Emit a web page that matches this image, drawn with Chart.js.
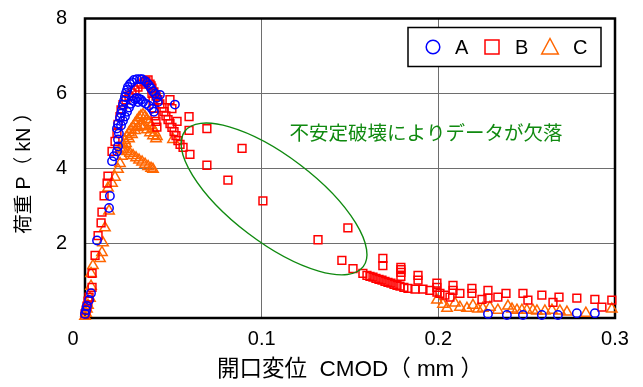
<!DOCTYPE html>
<html lang="ja">
<head>
<meta charset="utf-8">
<style>
html, body { margin: 0; padding: 0; background: #fff; }
canvas { display: block; }
</style>
<script src="https://cdn.jsdelivr.net/npm/chart.js"></script>
</head>
<body>
<canvas id="c" width="643" height="387"></canvas>
<script>
// Load P (kN) against crack mouth opening displacement CMOD (mm), three specimens.
const seriesNames = ['A', 'B', 'C'];

const cmodA = [0, 0.0006, 0.0011, 0.0023, 0.0034, 0.0068, 0.0136, 0.0141, 0.0153, 0.0164,
  0.0181, 0.0187, 0.0187, 0.0192, 0.0181, 0.0187, 0.0198, 0.0204, 0.0209, 0.0215,
  0.0221, 0.0226, 0.0232, 0.0238, 0.0243, 0.0255, 0.0266, 0.0277, 0.0294, 0.0311,
  0.0323, 0.0340, 0.0351, 0.0362, 0.0374, 0.0385, 0.0396, 0.0407, 0.0413,
  0.0204, 0.0215, 0.0226, 0.0238, 0.0249, 0.0260, 0.0272, 0.0283, 0.0294, 0.0306,
  0.0317, 0.0328, 0.0345, 0.0362, 0.0379, 0.0390,
  0.0300, 0.0424, 0.0509,
  0.2281, 0.2388, 0.2479, 0.2586, 0.2677, 0.2784, 0.2886];
const loadA = [0.11, 0.21, 0.32, 0.48, 0.66, 2.07, 2.94, 3.26, 4.19, 4.32,
  4.45, 4.58, 4.77, 4.93, 5.06, 5.19, 5.35, 5.46, 5.56, 5.70,
  5.80, 5.91, 6.01, 6.09, 6.17, 6.25, 6.30, 6.36, 6.38, 6.38,
  6.38, 6.33, 6.28, 6.22, 6.14, 6.06, 5.99, 5.88, 5.77,
  5.14, 5.27, 5.38, 5.51, 5.62, 5.72, 5.80, 5.85, 5.88, 5.85,
  5.83, 5.77, 5.72, 5.67, 5.59, 5.51,
  5.77, 5.96, 5.70,
  0.11, 0.08, 0.08, 0.08, 0.08, 0.13, 0.13];

const cmodB = [0, 0.0006, 0.0011, 0.0017, 0.0023, 0.0040, 0.0040, 0.0057, 0.0074, 0.0091,
  0.0096, 0.0108, 0.0125, 0.0130, 0.0153, 0.0170, 0.0181, 0.0187, 0.0198, 0.0204,
  0.0215, 0.0232, 0.0249, 0.0266, 0.0283, 0.0300, 0.0317, 0.0334, 0.0345, 0.0357,
  0.0368, 0.0379, 0.0390, 0.0402, 0.0413, 0.0424, 0.0436, 0.0447, 0.0458, 0.0470,
  0.0481, 0.0492, 0.0504, 0.0515, 0.0526, 0.0538, 0.0555, 0.0594,
  0.0374, 0.0379, 0.0385, 0.0390, 0.0396, 0.0402, 0.0407,
  0.0481, 0.0492, 0.0521, 0.0589, 0.0589, 0.0690, 0.0690, 0.0809, 0.0889, 0.1007,
  0.1319, 0.1488, 0.1454, 0.1517, 0.1573,
  0.1596, 0.1613, 0.1630, 0.1647, 0.1664, 0.1681, 0.1698, 0.1715, 0.1732, 0.1749,
  0.1766, 0.1783, 0.1805, 0.1828, 0.1868, 0.1913, 0.1952, 0.1992, 0.2009, 0.2037, 0.2066,
  0.1686, 0.1686, 0.1788, 0.1788, 0.1788, 0.1788, 0.1885, 0.1885, 0.1992, 0.1992,
  0.2083, 0.2083, 0.2122, 0.2190, 0.2190, 0.2247, 0.2281, 0.2281, 0.2337, 0.2383,
  0.2479, 0.2507, 0.2586, 0.2649, 0.2683, 0.2784, 0.2886, 0.2926, 0.2982];
const loadB = [0.11, 0.21, 0.32, 0.45, 0.56, 0.82, 1.19, 1.67, 2.20, 2.54,
  2.83, 3.26, 3.60, 3.79, 4.45, 4.72, 4.93, 5.17, 5.38, 5.56,
  5.70, 5.83, 5.93, 6.01, 6.09, 6.17, 6.25, 6.30, 6.33, 6.36,
  6.25, 6.14, 6.04, 5.93, 5.83, 5.72, 5.62, 5.51, 5.40, 5.30,
  5.19, 5.09, 4.98, 4.87, 4.74, 4.64, 4.56, 4.37,
  6.20, 6.00, 5.80, 5.60, 5.40, 5.25, 5.10,
  5.83, 5.59, 5.25, 5.38, 5.01, 5.06, 4.08, 3.68, 4.53, 3.13,
  2.09, 2.41, 1.54, 1.32, 1.19,
  1.14, 1.11, 1.09, 1.06, 1.03, 1.01, 0.98, 0.95, 0.93, 0.90,
  0.87, 0.85, 0.82, 0.79, 0.77, 0.77, 0.74, 0.69, 0.66, 0.61, 0.56,
  1.59, 1.40, 1.35, 1.29, 1.22, 1.11, 1.14, 1.01, 0.93, 0.82,
  0.87, 0.74, 0.66, 0.79, 0.66, 0.50, 0.74, 0.53, 0.56, 0.66,
  0.66, 0.48, 0.61, 0.42, 0.56, 0.53, 0.50, 0.29, 0.48];

const cmodC = [0, 0.0006, 0.0011, 0.0017, 0.0028, 0.0034, 0.0034, 0.0045, 0.0085, 0.0096,
  0.0102, 0.0113, 0.0136, 0.0130, 0.0153, 0.0170, 0.0187, 0.0198, 0.0209, 0.0204,
  0.0215, 0.0226, 0.0238, 0.0249, 0.0260, 0.0272, 0.0283, 0.0294, 0.0306, 0.0317,
  0.0328, 0.0340, 0.0351, 0.0362, 0.0374, 0.0385, 0.0396, 0.0407, 0.0498,
  0.0215, 0.0232, 0.0249, 0.0266, 0.0283, 0.0300, 0.0317, 0.0334, 0.0351, 0.0368, 0.0385, 0.0402,
  0.0221, 0.0238, 0.0255, 0.0272, 0.0289, 0.0306, 0.0323, 0.0340, 0.0357, 0.0374, 0.0385,
  0.1992, 0.2026, 0.2049, 0.2094, 0.2122, 0.2162, 0.2196, 0.2224, 0.2252, 0.2292,
  0.2337, 0.2394, 0.2417, 0.2445, 0.2473, 0.2501, 0.2535, 0.2558, 0.2603, 0.2643,
  0.2688, 0.2728, 0.2835, 0.2982];
const loadC = [0.05, 0.13, 0.24, 0.34, 0.53, 0.85, 1.19, 1.40, 1.59, 1.75,
  2.01, 2.41, 2.86, 3.47, 3.60, 3.76, 3.97, 4.13, 4.32, 4.50,
  4.64, 4.74, 4.85, 4.95, 5.03, 5.11, 5.19, 5.27, 5.35, 5.40,
  5.43, 5.38, 5.30, 5.22, 5.14, 5.06, 4.95, 4.85, 4.77,
  4.50, 4.66, 4.79, 4.90, 5.01, 5.09, 5.14, 5.11, 5.03, 4.95, 4.87, 4.79,
  4.50, 4.45, 4.40, 4.34, 4.28, 4.22, 4.17, 4.11, 4.05, 4.00, 3.97,
  0.48, 0.37, 0.26, 0.40, 0.29, 0.26, 0.34, 0.24, 0.26, 0.29,
  0.21, 0.32, 0.24, 0.21, 0.21, 0.21, 0.21, 0.19, 0.19, 0.21,
  0.19, 0.16, 0.13, 0.24];

const xTicks = [0, 0.1, 0.2, 0.3];
const yTicks = [0, 2, 4, 6, 8];
const xTitle = '開口変位  CMOD（ mm ）';
const yTitle = '荷重 P（ kN ）';
const noteText = '不安定破壊によりデータが欠落';

// Region of the unstable-fracture gap (centre in data units)
const noteRegion = { cmod: 0.107, load: 3.18 };
const notePos = { cmod: 0.193, load: 4.95 };

const latin = '"Liberation Sans", Arial, "Noto Sans CJK JP", sans-serif';
const green = '#108a10';

function toPoints(xs, ys) { return xs.map((x, i) => ({ x, y: ys[i] })); }

const markerStyles = [
  { color: '#0000ff', pointStyle: 'circle', radius: 4.2 },
  { color: '#ff0000', pointStyle: 'rect', radius: 5.5 },
  { color: '#ff6600', pointStyle: 'triangle', radius: 6 }
];
const seriesData = [toPoints(cmodA, loadA), toPoints(cmodB, loadB), toPoints(cmodC, loadC)];

const datasets = seriesNames.map((name, i) => ({
  label: name,
  data: seriesData[i],
  showLine: false,
  pointStyle: markerStyles[i].pointStyle,
  pointRadius: markerStyles[i].radius,
  pointHoverRadius: markerStyles[i].radius,
  pointBorderWidth: 1.5,
  borderColor: markerStyles[i].color,
  pointBorderColor: markerStyles[i].color,
  pointBackgroundColor: 'rgba(0,0,0,0)',
  backgroundColor: 'rgba(0,0,0,0)',
  clip: false
}));

const overlay = {
  id: 'overlay',
  beforeDatasetsDraw(chart) {
    const { ctx, chartArea: a } = chart;
    ctx.save();
    ctx.strokeStyle = '#000';
    ctx.lineWidth = 2.5;
    ctx.strokeRect(a.left, a.top, a.right - a.left, a.bottom - a.top);
    ctx.restore();
  },
  afterDatasetsDraw(chart) {
    const { ctx, chartArea: a, scales } = chart;
    const xs = scales.x, ys = scales.y;
    ctx.save();

    // ellipse around the sparse readings
    ctx.beginPath();
    ctx.ellipse(xs.getPixelForValue(noteRegion.cmod), ys.getPixelForValue(noteRegion.load),
      112, 43, 37.2 * Math.PI / 180, 0, Math.PI * 2);
    ctx.strokeStyle = green;
    ctx.lineWidth = 1.4;
    ctx.stroke();

    // annotation text
    ctx.fillStyle = green;
    ctx.font = '19.5px "Noto Sans CJK JP", sans-serif';
    ctx.textAlign = 'center';
    ctx.textBaseline = 'middle';
    ctx.fillText(noteText, xs.getPixelForValue(notePos.cmod), ys.getPixelForValue(notePos.load));

    // legend box
    const bw = 193, bh = 39;
    const bx = a.right - 14 - bw, by = a.top + 9;
    ctx.fillStyle = '#fff';
    ctx.fillRect(bx, by, bw, bh);
    ctx.strokeStyle = '#000';
    ctx.lineWidth = 1.5;
    ctx.strokeRect(bx, by, bw, bh);
    const cy = by + bh / 2;
    const markerX = [25, 84, 142];
    const textX = [47, 107, 165];
    chart.data.datasets.forEach((ds, i) => {
      const mx = bx + markerX[i];
      ctx.strokeStyle = ds.pointBorderColor;
      ctx.lineWidth = 1.5;
      ctx.beginPath();
      if (ds.pointStyle === 'circle') {
        ctx.arc(mx, cy, 6.8, 0, Math.PI * 2);
      } else if (ds.pointStyle === 'rect') {
        ctx.rect(mx - 7, cy - 7, 14, 14);
      } else {
        ctx.moveTo(mx, cy - 8.5);
        ctx.lineTo(mx + 8.3, cy + 7);
        ctx.lineTo(mx - 8.3, cy + 7);
        ctx.closePath();
      }
      ctx.stroke();
      ctx.fillStyle = '#000';
      ctx.font = '20px ' + latin;
      ctx.textAlign = 'left';
      ctx.textBaseline = 'middle';
      ctx.fillText(ds.label, bx + textX[i], cy + 1);
    });

    // shared origin label
    ctx.fillStyle = '#000';
    ctx.font = '20px ' + latin;
    ctx.textAlign = 'center';
    ctx.textBaseline = 'middle';
    ctx.fillText('0', a.left - 12, a.bottom + 21);
    ctx.restore();
  }
};

const xTickFont = { family: latin, size: 20 };
const yTickFont = { family: latin, size: 20, lineHeight: 0.05 };

new Chart(document.getElementById('c'), {
  type: 'scatter',
  data: { datasets },
  options: {
    responsive: false,
    animation: false,
    events: [],
    layout: { padding: { top: 16, right: 28, left: 0, bottom: 0 } },
    plugins: { legend: { display: false }, tooltip: { enabled: false } },
    scales: {
      x: {
        type: 'linear',
        min: 0,
        max: 0.3,
        afterBuildTicks: s => { s.ticks = xTicks.map(v => ({ value: v })); },
        afterFit: s => { s.height = 69; },
        ticks: {
          font: xTickFont,
          color: '#000',
          padding: 9,
          maxRotation: 0,
          callback: v => (v === 0 ? '' : String(v))
        },
        grid: {
          drawTicks: false,
          lineWidth: 1,
          color: c => (c.tick && c.tick.value > 0 && c.tick.value < 0.3 ? '#6e6e6e' : 'rgba(0,0,0,0)')
        },
        border: { display: false },
        title: { display: true, text: xTitle, font: { family: latin, size: 22.5 }, color: '#000', padding: { top: 0, bottom: 4 } }
      },
      y: {
        type: 'linear',
        min: 0,
        max: 8,
        afterBuildTicks: s => { s.ticks = yTicks.map(v => ({ value: v })); },
        afterFit: s => { s.width = 85; },
        ticks: {
          font: yTickFont,
          color: '#000',
          padding: 18,
          callback: v => (v === 0 ? '' : String(v))
        },
        grid: {
          drawTicks: false,
          lineWidth: 1,
          color: c => (c.tick && c.tick.value > 0 && c.tick.value < 8 ? '#6e6e6e' : 'rgba(0,0,0,0)')
        },
        border: { display: false },
        title: { display: true, text: yTitle, font: { family: latin, size: 19.5 }, color: '#000', padding: { top: 13, bottom: 0 } }
      }
    }
  },
  plugins: [overlay]
});
</script>
</body>
</html>
